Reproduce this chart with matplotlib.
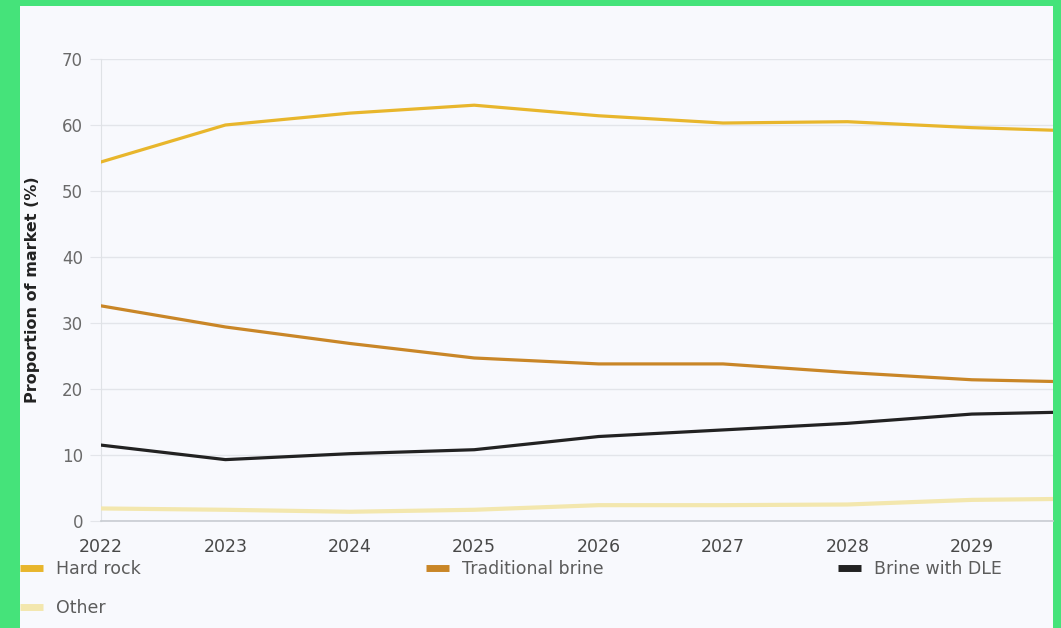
import matplotlib as mpl
mpl.use('Agg')
import matplotlib.pyplot as plt
from matplotlib.patches import Rectangle

# data (last point sits past the cropped right edge)
years = [2022, 2023, 2024, 2025, 2026, 2027, 2028, 2029, 2030]
hard_rock = [54.4, 60.0, 61.8, 63.0, 61.4, 60.3, 60.5, 59.6, 59.0]
trad_brine = [32.6, 29.4, 26.9, 24.7, 23.8, 23.8, 22.5, 21.4, 21.0]
brine_dle = [11.5, 9.3, 10.2, 10.8, 12.8, 13.8, 14.8, 16.2, 16.6]
other = [1.9, 1.7, 1.4, 1.7, 2.4, 2.4, 2.5, 3.2, 3.4]

yticks = [0, 10, 20, 30, 40, 50, 60, 70]
xticks = [2022, 2023, 2024, 2025, 2026, 2027, 2028, 2029]

W, H = 1061, 628
green = '#45e37a'
panel = '#f8f9fd'
txtcol = '#5c5c5c'

fig = plt.figure(figsize=(W / 100, H / 100), dpi=100)
fig.patch.set_facecolor(green)
fig.patches.append(Rectangle((20 / W, 0), (1053 - 20) / W, (H - 6) / H,
                             transform=fig.transFigure, facecolor=panel,
                             edgecolor='none', zorder=-5))

ax = fig.add_axes([101 / W, (H - 521) / H, (1053 - 101) / W, (521 - 59) / H])
ax.set_facecolor(panel)

l_hard, = ax.plot(years, hard_rock, color='#e8b62c', lw=2.3, label='Hard rock', zorder=4)
l_trad, = ax.plot(years, trad_brine, color='#c98627', lw=2.3, label='Traditional brine', zorder=4)
l_dle, = ax.plot(years, brine_dle, color='#222222', lw=2.3, label='Brine with DLE', zorder=5)
l_oth, = ax.plot(years, other, color='#f3e7ae', lw=3, label='Other', zorder=3)

ax.set_xlim(2022, 2022 + 952 / 124.4)
ax.set_ylim(0, 70)
ax.set_yticks(yticks)
ax.set_xticks(xticks)
ax.grid(axis='y', color='#e3e5ea', lw=1, zorder=1)
ax.grid(axis='x', visible=False)
ax.set_axisbelow(True)

for s in ['top', 'right']:
    ax.spines[s].set_visible(False)
ax.spines['left'].set_color('#dfe2e6')
ax.spines['bottom'].set_color('#c8ccd2')
ax.spines['bottom'].set_linewidth(1.2)

ax.tick_params(axis='y', length=8, color='#e3e5ea', pad=5, labelsize=12, labelcolor='#6a6a6a')
ax.tick_params(axis='x', length=0, pad=12, labelsize=12.5, labelcolor='#484848')

fig.text(33 / W, 1 - 290 / H, 'Proportion of market (%)', rotation=90,
         ha='center', va='center', fontsize=11.5, fontweight='bold', color='#222222')

# legend in three columns under the plot
cols = [(20, [l_hard, l_oth]), (426, [l_trad]), (838, [l_dle])]
for x0, hs in cols:
    leg = fig.legend(handles=hs, loc='upper left',
                     bbox_to_anchor=(x0 / W, 1 - 560 / H),
                     frameon=False, fontsize=12.5, borderpad=0, borderaxespad=0,
                     handlelength=1.3, handletextpad=0.8, labelspacing=1.2)
    for t in leg.get_texts():
        t.set_color(txtcol)
    for ln in leg.get_lines():
        ln.set_linewidth(5)
        ln.set_solid_capstyle('butt')

fig.savefig('out.png', dpi=100, facecolor=fig.get_facecolor())
